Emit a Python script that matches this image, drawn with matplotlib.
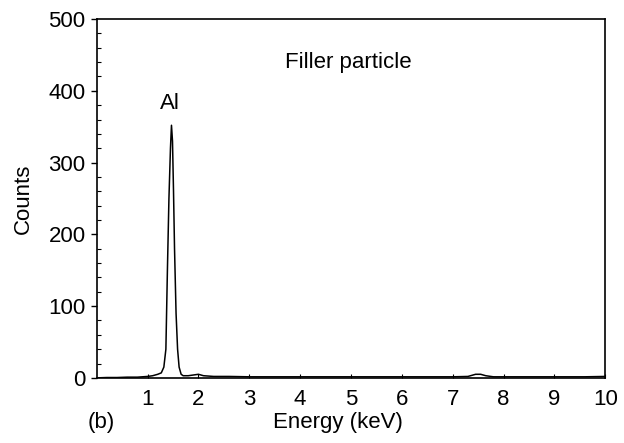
import numpy as np
import matplotlib
matplotlib.use('Agg')
import matplotlib.pyplot as plt
from matplotlib.ticker import MultipleLocator

plt.rcParams['font.family'] = ['Liberation Sans', 'DejaVu Sans']

# EDX spectrum
energy = [0.0, 0.2, 0.4, 0.6, 0.8, 1.0, 1.1, 1.2, 1.27, 1.32, 1.36, 1.39, 1.42,
          1.45, 1.47, 1.49, 1.51, 1.53, 1.56, 1.59, 1.62, 1.66, 1.7, 1.8, 1.9,
          2.0, 2.1, 2.3, 2.6, 3.0, 3.5, 4.0, 4.5, 5.0, 5.5, 6.0, 6.5, 7.0, 7.3,
          7.45, 7.55, 7.65, 7.8, 8.2, 8.7, 9.2, 9.6, 10.0]
counts = [0, 0.5, 0.5, 1, 1, 2, 3, 5, 7, 15, 40, 150, 250,
          320, 352, 330, 260, 180, 90, 40, 15, 5, 3, 3, 4,
          5, 3, 2, 2, 1.5, 1.5, 1.5, 1.5, 1.5, 1.5, 1.5, 1.5, 1.5, 2,
          5, 5, 3, 1.5, 1.5, 1.5, 1.5, 1.5, 2]

fs = 16
fig = plt.figure(figsize=(6.24, 4.43), dpi=100)
ax = fig.add_axes([0.155, 0.147, 0.815, 0.81])
ax.plot(energy, counts, color='black', lw=1.1)

ax.set_xlim(0, 10)
ax.set_ylim(0, 500)
ax.set_xticks(range(1, 11))
ax.set_yticks(range(0, 501, 100))
ax.yaxis.set_minor_locator(MultipleLocator(20))
ax.tick_params(axis='y', which='major', direction='out', length=4, labelsize=fs, width=1, pad=4)
ax.tick_params(axis='y', which='minor', direction='in', length=3, width=0.8)
ax.tick_params(axis='x', direction='in', length=3, labelsize=fs, pad=8)
for s in ax.spines.values():
    s.set_linewidth(1.2)

ax.set_ylabel('Counts', fontsize=fs, va='center')
ax.yaxis.set_label_coords(-0.144, 0.5)
ax.set_xlabel('Energy (keV)', fontsize=fs, va='center')
ax.xaxis.set_label_coords(0.475, -0.123)
ax.text(1.43, 382, 'Al', fontsize=fs, ha='center', va='center')
ax.text(4.95, 440, 'Filler particle', fontsize=fs, ha='center', va='center')
fig.text(0.162, 0.047, '(b)', fontsize=fs, ha='center', va='center')

fig.savefig('out.png', dpi=100)
